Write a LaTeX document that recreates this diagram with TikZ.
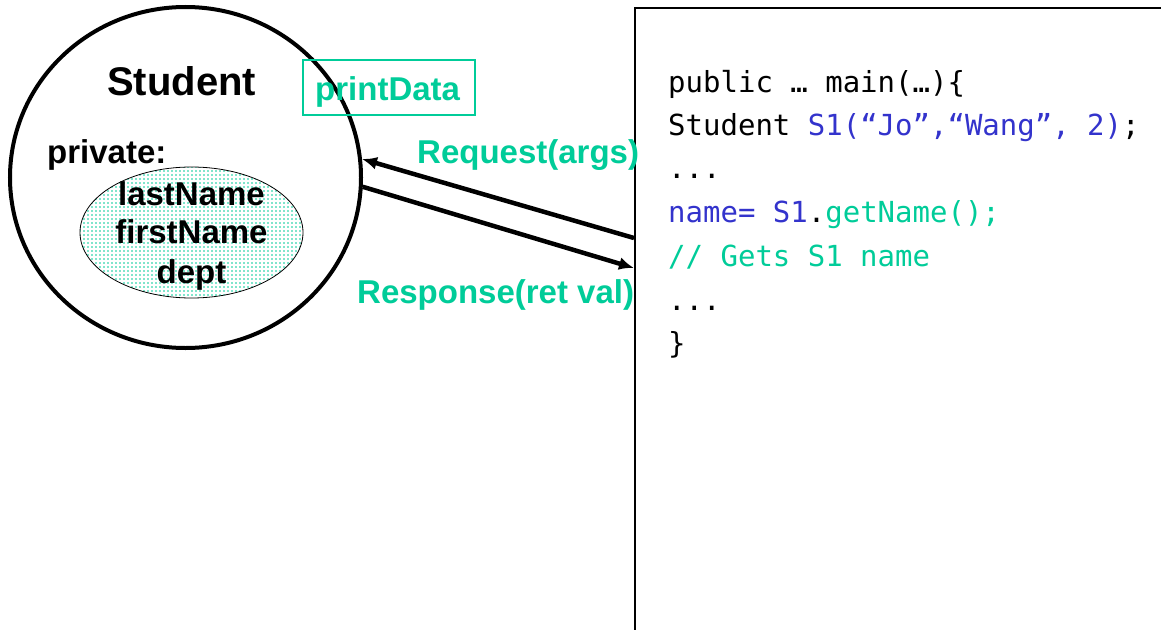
\documentclass[tikz,border=0pt]{standalone}
\usepackage{fontspec}
\setmainfont{Liberation Sans}
\newfontfamily\codefont{DejaVu Sans Mono}
\usetikzlibrary{shapes.geometric,arrows.meta}
\definecolor{mgreen}{RGB}{0,204,153}
\definecolor{mblue}{RGB}{51,51,204}
\tikzset{
  bigtxt/.style={font=\bfseries\fontsize{33}{38}\selectfont, inner sep=0pt},
  codeline/.style={font=\codefont\fontsize{29}{34}\selectfont, anchor=base west, inner sep=0pt},
  arr/.style={line width=4.5pt, -{Latex[length=15pt,width=13pt]}},
}
\begin{document}
\begin{tikzpicture}[x=1pt,y=-1pt]
\clip (0,0) rectangle (1161,629);
\fill[white] (0,0) rectangle (1161,629);
% code box
\node[draw, line width=1.5pt, anchor=north west, minimum width=700pt, minimum height=800pt, inner sep=0pt] (code) at (634,7) {};
% student circle
\node[draw, ellipse, line width=4pt, minimum width=351pt, minimum height=341pt, inner sep=0pt] (student) at (185.5,177.5) {};
% inner ellipse with dotted fill
\begin{scope}
  \clip (191.5,232.5) ellipse [x radius=111.5pt, y radius=65.5pt];
  \foreach \i in {0,...,56} {
    \foreach \j in {0,...,33} {
      \fill[mgreen] (80+\i*4, 167+\j*4) circle[radius=0.8pt];
    }
  }
\end{scope}
\node[draw, ellipse, line width=0.8pt, minimum width=223pt, minimum height=131pt, inner sep=0pt] (attrs) at (191.5,232.5) {};
\node[anchor=base west, font=\bfseries\fontsize{40}{48}\selectfont, inner sep=0pt] (title) at (107,95) {Student};
\node[bigtxt, anchor=base west] (priv) at (47,163) {private:};
\node[bigtxt, anchor=base] (ln) at (191.5,205) {lastName};
\node[bigtxt, anchor=base] (fn) at (191.5,243) {firstName};
\node[bigtxt, anchor=base] (dp) at (191.5,283) {dept};
% printData
\node[draw=mgreen, line width=1.5pt, minimum width=172pt, minimum height=55pt, inner sep=0pt] (pbox) at (389,87.5) {};
\node[bigtxt, text=mgreen, anchor=base west] (ptxt) at (315,100) {printData};
% labels
\node[bigtxt, text=mgreen, anchor=base west] (req) at (417,163) {Request(args)};
\node[bigtxt, text=mgreen, anchor=base west] (resp) at (357,303) {Response(ret val)};
% arrows
\coordinate (rqstart) at (634,238);
\coordinate (rsend) at (634,268);
\draw[arr] (rqstart) -- (student.6.3);
\draw[arr] (student.-3.4) -- (rsend);
% code
\node[codeline] (c1) at (668,92) {public … main(…)\{};
\node[codeline] (c2) at (668,135) {Student \textcolor{mblue}{S1(“Jo”,“Wang”, 2)};};
\node[codeline] (c3) at (668,178) {...};
\node[codeline] (c4) at (668,222) {\textcolor{mblue}{name= S1}.\textcolor{mgreen}{getName();}};
\node[codeline, text=mgreen] (c5) at (668,266) {// Gets S1 name};
\node[codeline] (c6) at (668,310) {...};
\node[codeline] (c7) at (668,353) {\}};
\end{tikzpicture}
\end{document}
